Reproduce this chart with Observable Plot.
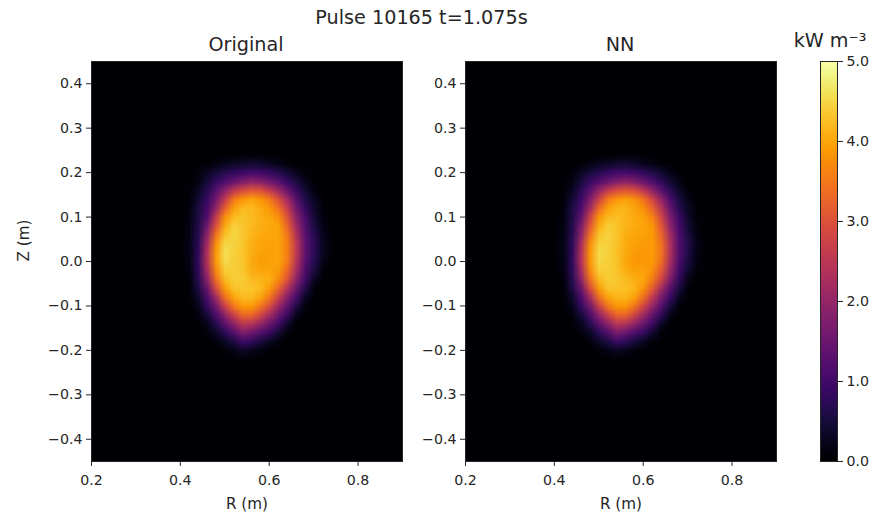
<!DOCTYPE html>
<html><head><meta charset="utf-8">
<script src="https://cdn.jsdelivr.net/npm/d3@7"></script>
<script src="https://cdn.jsdelivr.net/npm/@observablehq/plot@0.6"></script>
<style>
html,body{margin:0;padding:0;background:#fff}
#c{position:relative;width:889px;height:512px;overflow:hidden;font-family:"DejaVu Sans",sans-serif;color:#262626}
#c>svg,#c>figure{position:absolute;margin:0;top:0}
#t{position:absolute;left:0;width:843px;top:8px;text-align:center;font-size:19.2px;line-height:20px}
</style></head><body><div id="c"><div id="t">Pulse 10165 t=1.075s</div></div>
<script>
const panelTitles = ["Original", "NN"];
const colorbarLabel = "kW m⁻³";
const xTicks = [0.2, 0.4, 0.6, 0.8];
const yTicks = [-0.4, -0.3, -0.2, -0.1, 0, 0.1, 0.2, 0.3, 0.4];
const cbarTicks = [0, 1, 2, 3, 4, 5];
// emission, rows Z = 0.24 … -0.22 (step 0.02), columns R = 0.40 … 0.74 (step 0.02)
const rCols = [.40,.42,.44,.46,.48,.50,.52,.54,.56,.58,.60,.62,.64,.66,.68,.70,.72,.74];
const zRows = [.24,.22,.20,.18,.16,.14,.12,.10,.08,.06,.04,.02,0,-.02,-.04,-.06,-.08,-.10,-.12,-.14,-.16,-.18,-.20,-.22];
const original = [
[0,0,0,0,0,.01,.03,.05,.07,.06,.04,.02,0,0,0,0,0,0],
[0,0,.01,.05,.15,.25,.35,.4,.45,.4,.3,.2,.1,.03,0,0,0,0],
[0,.01,.1,.3,.5,.7,.85,.95,1.05,1.0,.85,.7,.5,.25,.08,.01,0,0],
[0,.03,.18,.5,.85,1.15,1.45,1.7,1.9,1.8,1.55,1.25,.9,.55,.25,.05,0,0],
[0,.06,.3,.7,1.25,1.9,2.5,2.9,3.1,3.0,2.6,2.1,1.45,.9,.45,.15,.01,0],
[.01,.08,.45,.9,1.6,2.6,3.5,3.85,4.0,3.85,3.55,2.95,2.15,1.3,.65,.3,.05,0],
[.01,.12,.55,1.05,2.0,3.2,3.95,4.2,4.2,4.05,3.85,3.4,2.65,1.6,.85,.4,.08,0],
[.02,.15,.6,1.2,2.6,3.8,4.2,4.3,4.2,4.1,4.0,3.8,3.0,1.9,1.1,.5,.12,0],
[.02,.17,.65,1.6,3.0,4.05,4.45,4.35,4.2,4.1,4.05,3.95,3.3,2.15,1.2,.6,.18,.01],
[.02,.18,.7,1.9,3.45,4.3,4.5,4.35,4.15,4.05,4.0,4.0,3.5,2.4,1.3,.72,.25,.02],
[.02,.2,.75,2.2,3.8,4.5,4.45,4.35,4.1,4.0,3.95,4.0,3.6,2.55,1.35,.8,.3,.04],
[.02,.2,.8,2.4,3.9,4.6,4.45,4.3,4.1,3.95,3.95,4.0,3.6,2.55,1.35,.78,.28,.04],
[.02,.18,.85,2.4,3.9,4.55,4.4,4.35,4.05,3.9,3.95,4.0,3.55,2.45,1.25,.7,.2,.02],
[.02,.15,.8,2.2,3.7,4.4,4.4,4.35,4.1,4.0,4.0,3.9,3.3,2.25,1.15,.55,.1,.01],
[.01,.08,.7,1.9,3.4,4.2,4.4,4.4,4.2,4.15,4.1,3.7,3.0,1.9,1.0,.3,.02,0],
[.01,.06,.6,1.5,2.9,3.9,4.3,4.35,4.3,4.2,3.9,3.3,2.4,1.5,.7,.12,0,0],
[0,.04,.4,1.15,2.2,3.4,4.0,4.2,4.2,4.0,3.5,2.7,1.8,1.1,.35,.03,0,0],
[0,.02,.25,.85,1.6,2.7,3.5,3.9,3.9,3.5,2.9,2.1,1.4,.65,.1,0,0,0],
[0,.01,.12,.5,1.1,1.9,2.7,3.3,3.3,2.8,2.2,1.5,.9,.25,.02,0,0,0],
[0,0,.05,.25,.7,1.3,1.9,2.5,2.4,2.0,1.5,1.0,.4,.05,0,0,0,0],
[0,0,.01,.1,.35,.75,1.2,1.7,1.5,1.2,.9,.45,.1,0,0,0,0,0],
[0,0,0,.02,.1,.35,.6,.95,.8,.55,.3,.1,.01,0,0,0,0,0],
[0,0,0,0,.01,.05,.2,.35,.25,.12,.03,0,0,0,0,0,0,0],
[0,0,0,0,0,0,.02,.05,.03,0,0,0,0,0,0,0,0,0]
];
const nn = [
[0,0,0,0,0,.01,.03,.05,.07,.06,.04,.01,0,0,0,0,0,0],
[0,0,.01,.05,.16,.27,.36,.42,.45,.38,.27,.17,.08,.02,0,0,0,0],
[0,.01,.1,.32,.52,.72,.88,1.0,1.05,.97,.8,.63,.42,.2,.05,0,0,0],
[0,.03,.19,.52,.9,1.2,1.5,1.75,1.9,1.75,1.48,1.15,.8,.47,.18,.03,0,0],
[0,.06,.32,.75,1.3,2.0,2.6,2.95,3.1,2.95,2.5,1.95,1.3,.78,.36,.09,0,0],
[.01,.08,.47,.95,1.75,2.75,3.55,3.85,3.95,3.8,3.45,2.8,1.98,1.15,.55,.2,.02,0],
[.01,.12,.57,1.15,2.2,3.35,3.95,4.15,4.15,4.0,3.75,3.25,2.45,1.42,.72,.3,.04,0],
[.02,.15,.62,1.35,2.75,3.85,4.2,4.25,4.15,4.05,3.95,3.65,2.8,1.7,.95,.38,.07,0],
[.02,.17,.68,1.7,3.1,4.1,4.4,4.3,4.15,4.05,4.0,3.85,3.1,1.95,1.05,.47,.1,0],
[.02,.18,.72,1.95,3.45,4.3,4.45,4.3,4.1,4.0,3.95,3.9,3.3,2.2,1.15,.58,.15,.01],
[.02,.2,.78,2.25,3.75,4.45,4.45,4.3,4.05,3.95,3.9,3.9,3.45,2.35,1.2,.65,.2,.02],
[.02,.2,.8,2.4,3.85,4.55,4.45,4.25,4.05,3.9,3.85,3.9,3.45,2.35,1.2,.62,.18,.02],
[.02,.18,.82,2.4,3.85,4.5,4.4,4.3,4.0,3.85,3.85,3.9,3.38,2.25,1.1,.55,.13,.01],
[.02,.15,.78,2.2,3.7,4.4,4.4,4.3,4.1,3.95,3.95,3.75,3.12,2.05,1.0,.42,.06,0],
[.01,.08,.7,1.9,3.4,4.2,4.4,4.35,4.2,4.1,4.0,3.55,2.8,1.7,.82,.22,.01,0],
[.01,.06,.6,1.5,2.9,3.9,4.3,4.3,4.25,4.15,3.8,3.15,2.2,1.3,.55,.08,0,0],
[0,.04,.4,1.15,2.2,3.4,4.0,4.15,4.15,3.95,3.4,2.55,1.65,.95,.28,.02,0,0],
[0,.02,.25,.85,1.6,2.7,3.5,3.85,3.85,3.45,2.8,2.0,1.25,.55,.08,0,0,0],
[0,.01,.12,.5,1.1,1.9,2.7,3.25,3.25,2.75,2.1,1.4,.8,.2,.01,0,0,0],
[0,0,.05,.25,.7,1.3,1.9,2.45,2.35,1.95,1.45,.95,.35,.04,0,0,0,0],
[0,0,.01,.1,.35,.75,1.2,1.65,1.45,1.15,.85,.42,.08,0,0,0,0,0],
[0,0,0,.02,.1,.35,.6,.92,.78,.52,.28,.09,.01,0,0,0,0,0],
[0,0,0,0,.01,.05,.2,.33,.24,.11,.03,0,0,0,0,0,0,0],
[0,0,0,0,0,0,.02,.05,.03,0,0,0,0,0,0,0,0,0]
];

// Fill the whole 0.02 m sampling grid; only the rows/columns above are non-zero.
const step = 0.02, nx = 36, ny = 47; // R .20 … .90, Z .46 … -.46
function gridFrom(rows) {
  const flat = new Float64Array(nx * ny);
  rows.forEach((row, j) => row.forEach((v, i) => {
    const cx = Math.round((rCols[i] - 0.2) / step), cy = Math.round((0.46 - zRows[j]) / step);
    flat[cy * nx + cx] = v;
  }));
  return flat;
}
const color = {type: "linear", scheme: "inferno", domain: [0, 5]};
const axisStyle = {fontSize: "14.2px", fontFamily: "DejaVu Sans, sans-serif", background: "transparent", color: "#262626", overflow: "visible"};
const h = 512, mt = 61, mb = 51;

function panel(rows, title, left, width, ml, withY) {
  const marks = [
    Plot.raster(gridFrom(rows), {width: nx, height: ny, x1: 0.19, x2: 0.91, y1: 0.47, y2: -0.47, clip: true}),
    Plot.frame({stroke: "#262626", strokeWidth: 1}),
    Plot.axisX({ticks: xTicks, tickFormat: d3.format(".1f"), tickSize: 5, tickPadding: 8, stroke: "#262626", label: null}),
    Plot.axisY({ticks: yTicks, tickFormat: d3.format(".1f"), tickSize: 5, tickPadding: 4, stroke: "#262626", label: null}),
    Plot.text(["R (m)"], {frameAnchor: "bottom", dy: 47, lineAnchor: "bottom", fontSize: 15.2, fill: "#262626"}),
    Plot.text([title], {frameAnchor: "top", dy: -24, dx: -1, fontSize: 19.2, fill: "#262626"})
  ];
  if (withY) marks.push(Plot.text(["Z (m)"], {frameAnchor: "left", dx: -67, rotate: -90, fontSize: 15.2, fill: "#262626"}));
  const svg = Plot.plot({width, height: h, marginLeft: ml, marginRight: width - ml - 311, marginTop: mt, marginBottom: mb,
    style: axisStyle,
    x: {domain: [0.2, 0.9]}, y: {domain: [-0.45, 0.45]}, color, marks});
  svg.style.left = left + "px";
  return svg;
}
const root = document.getElementById("c");
root.appendChild(panel(original, panelTitles[0], 0, 430, 91, true));
root.appendChild(panel(nn, panelTitles[1], 415, 400, 50, false));
const cbar = Plot.plot({width: 99, height: h, marginLeft: 30, marginRight: 52, marginTop: mt, marginBottom: mb,
  style: axisStyle,
  x: {domain: [0, 1], axis: null}, y: {domain: [0, 5]}, color,
  marks: [
    Plot.raster({fill: (x, y) => y, x1: 0, x2: 1, y1: 0, y2: 5, pixelSize: 1}),
    Plot.frame({stroke: "#262626", strokeWidth: 1}),
    Plot.axisY({anchor: "right", ticks: cbarTicks, tickFormat: d3.format(".1f"), tickSize: 5, tickPadding: 4, stroke: "#262626", label: null}),
    Plot.text([colorbarLabel], {frameAnchor: "top", dy: -28.5, dx: 1, fontSize: 19.2, fill: "#262626"})
  ]});
cbar.style.left = "790px";
root.appendChild(cbar);
</script></body></html>
